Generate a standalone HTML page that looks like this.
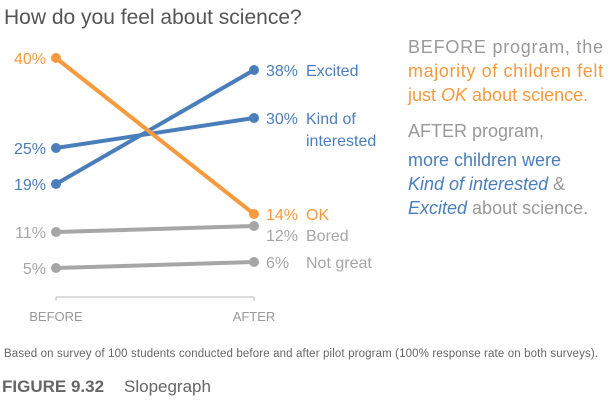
<!DOCTYPE html>
<html><head><meta charset="utf-8"><style>
body{margin:0;background:#fff;width:611px;height:401px;overflow:hidden;font-family:"Liberation Sans",sans-serif}
svg{position:absolute;left:0;top:0}
</style></head><body>
<svg width="611" height="401">
<text x="4" y="24" font-size="21" fill="#555">How do you feel about science?</text>
<g id="marks"></g>
<line x1="56" y1="297" x2="254" y2="297" stroke="#bbb"/>
<line x1="56" y1="297" x2="56" y2="301" stroke="#bbb"/>
<line x1="254" y1="297" x2="254" y2="301" stroke="#bbb"/>
<text x="56" y="321" font-size="13" fill="#999" text-anchor="middle">BEFORE</text>
<text x="254" y="321" font-size="13" fill="#999" text-anchor="middle">AFTER</text>
<g font-size="18">
<text x="408" y="53" fill="#999" textLength="195">BEFORE program, the</text>
<text x="408" y="77" fill="#F79A3E" textLength="195">majority of children felt</text>
<text x="408" y="101" fill="#F79A3E">just <tspan font-style="italic">OK</tspan> about science.</text>
<text x="408" y="137" fill="#999">AFTER program,</text>
<text x="408" y="166" fill="#4A7EBB">more children were</text>
<text x="408" y="190" fill="#4A7EBB"><tspan font-style="italic">Kind of interested</tspan> <tspan fill="#999">&amp;</tspan></text>
<text x="408" y="214" fill="#4A7EBB"><tspan font-style="italic">Excited</tspan> <tspan fill="#999">about science.</tspan></text>
</g>
<text x="4" y="357" font-size="11.5" fill="#666" textLength="594">Based on survey of 100 students conducted before and after pilot program (100% response rate on both surveys).</text>
<text x="2" y="392" font-size="17" fill="#666"><tspan font-weight="bold">FIGURE 9.32</tspan><tspan x="124">Slopegraph</tspan></text>
</svg>
<script>
const categories=["Excited","Kind of interested","OK","Bored","Not great"];
const beforeVals=[19,25,40,11,5];
const afterVals=[38,30,14,12,6];
const colors=["#4A7EBB","#4A7EBB","#F79A3E","#A6A6A6","#A6A6A6"];
const xB=56,xA=254;
function y(v){return 58+(40-v)*6;}
const g=document.getElementById('marks');
const ns="http://www.w3.org/2000/svg";
function mk(t,a){const e=document.createElementNS(ns,t);for(const k in a)e.setAttribute(k,a[k]);g.appendChild(e);return e;}
categories.forEach((c,i)=>{
  const col=colors[i];const slug=c.toLowerCase().replace(/ /g,'-');
  const l=mk('line',{x1:xB,y1:y(beforeVals[i]),x2:xA,y2:y(afterVals[i]),stroke:col,'stroke-width':4});
  
  
  const d1=mk('circle',{cx:xB,cy:y(beforeVals[i]),r:5,fill:col});
  
  
  const d2=mk('circle',{cx:xA,cy:y(afterVals[i]),r:5,fill:col});
  
  
  const lt=mk('text',{x:xB-10,y:y(beforeVals[i])+6,'font-size':16,fill:col,'text-anchor':'end'});
  lt.textContent=beforeVals[i]+'%';
  
  
  let yy=y(afterVals[i])+6;
  if(c==='Bored')yy+=9;
  const rt=mk('text',{x:xA+12,y:yy,'font-size':16,fill:col});
  rt.textContent=afterVals[i]+'%';
  
  
  const parts=c==='Kind of interested'?['Kind of','interested']:[c];
  parts.forEach((p,j)=>{
    const ct=mk('text',{x:xA+52,y:yy+j*22,'font-size':16,fill:col});
    ct.textContent=p;
    
    
  });
});
</script>
</body></html>
